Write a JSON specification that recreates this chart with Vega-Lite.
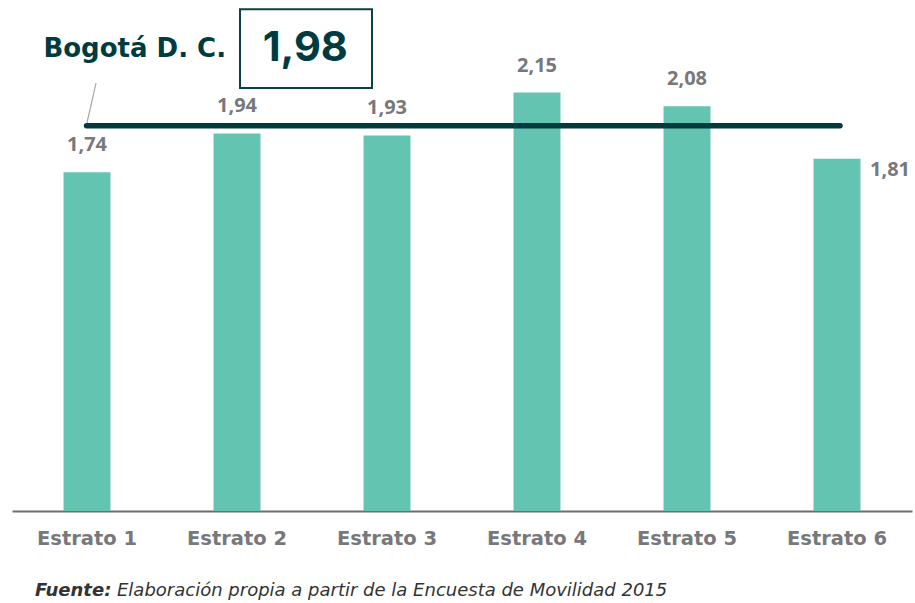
{
  "$schema": "https://vega.github.io/schema/vega-lite/v6.json",
  "width": 900,
  "height": 506,
  "autosize": "none",
  "padding": {"left": 12, "top": 5, "right": 3, "bottom": 92},
  "background": "white",
  "config": {
    "view": {"stroke": null},
    "font": "Open Sans",
    "locale": {"number": {"decimal": ",", "thousands": ".", "grouping": [3], "currency": ["$", ""]}}
  },
  "datasets": {
    "estratos": [
      {"estrato": "Estrato 1", "viajes": 1.74},
      {"estrato": "Estrato 2", "viajes": 1.94},
      {"estrato": "Estrato 3", "viajes": 1.93},
      {"estrato": "Estrato 4", "viajes": 2.15},
      {"estrato": "Estrato 5", "viajes": 2.08},
      {"estrato": "Estrato 6", "viajes": 1.81}
    ],
    "bogota": [{"ciudad": "Bogotá D. C.", "promedio": 1.98}],
    "fuente": [{"etiqueta": "Fuente:", "texto": "Elaboración propia a partir de la Encuesta de Movilidad 2015"}]
  },
  "layer": [
    {
      "data": {"name": "estratos"},
      "encoding": {
        "x": {
          "field": "estrato", "type": "nominal", "sort": null,
          "scale": {"paddingInner": 0.687, "paddingOuter": 0.3435},
          "axis": {"title": null, "labelAngle": 0, "ticks": false, "domainColor": "#6d6e71", "domainWidth": 2,
                   "labelFont": "DejaVu Sans", "labelFontSize": 19.5, "labelFontWeight": "bold", "labelColor": "#77787b", "labelPadding": 18}
        },
        "y": {"field": "viajes", "type": "quantitative", "scale": {"domain": [0, 2.6], "nice": false, "zero": true}, "axis": null}
      },
      "layer": [
        {"mark": {"type": "bar", "color": "#63c5b1"}},
        {
          "transform": [{"filter": "datum.estrato != 'Estrato 6'"}],
          "mark": {"type": "text", "baseline": "middle", "dy": -27, "fontSize": 20, "fontWeight": "bold", "color": "#77787b"},
          "encoding": {"text": {"field": "viajes", "type": "quantitative", "format": ".2f"}}
        },
        {
          "transform": [{"filter": "datum.estrato == 'Estrato 6'"}],
          "mark": {"type": "text", "baseline": "middle", "align": "left", "dx": 33, "dy": 11, "fontSize": 20, "fontWeight": "bold", "color": "#77787b"},
          "encoding": {"text": {"field": "viajes", "type": "quantitative", "format": ".2f"}}
        }
      ]
    },
    {
      "layer": [
        {
          "data": {"name": "bogota"},
          "mark": {"type": "rule", "color": "#003b40", "strokeWidth": 5.5, "strokeCap": "round"},
          "encoding": {
            "x": {"datum": 0.497, "type": "quantitative", "scale": {"domain": [0, 6], "nice": false, "zero": true}, "axis": null},
            "x2": {"datum": 5.52},
            "y": {"field": "promedio", "type": "quantitative"}
          }
        },
        {
          "data": {"name": "bogota"},
          "mark": {"type": "rule", "color": "#a7a9ac", "strokeWidth": 1.2},
          "encoding": {
            "x": {"datum": 0.56, "type": "quantitative", "scale": {"domain": [0, 6], "nice": false}, "axis": null},
            "x2": {"datum": 0.5},
            "y": {"datum": 2.198, "type": "quantitative"},
            "y2": {"datum": 1.995}
          }
        },
        {
          "data": {"name": "bogota"},
          "mark": {"type": "rect", "fill": "white", "stroke": "#0b4044", "strokeWidth": 2},
          "encoding": {
            "x": {"datum": 1.52, "type": "quantitative", "scale": {"domain": [0, 6], "nice": false}, "axis": null},
            "x2": {"datum": 2.4},
            "y": {"datum": 2.173, "type": "quantitative"},
            "y2": {"datum": 2.578}
          }
        },
        {
          "data": {"name": "bogota"},
          "mark": {"type": "text", "baseline": "middle", "align": "center", "font": "Inter", "fontSize": 41.5, "fontWeight": "bold", "color": "#003b40"},
          "encoding": {
            "x": {"datum": 1.955, "type": "quantitative", "scale": {"domain": [0, 6], "nice": false}, "axis": null},
            "y": {"datum": 2.373, "type": "quantitative"},
            "text": {"field": "promedio", "type": "quantitative", "format": ".2f"}
          }
        },
        {
          "data": {"name": "bogota"},
          "mark": {"type": "text", "baseline": "middle", "align": "right", "font": "DejaVu Sans", "fontSize": 26, "fontWeight": "bold", "color": "#003b40"},
          "encoding": {
            "x": {"datum": 1.427, "type": "quantitative", "scale": {"domain": [0, 6], "nice": false}, "axis": null},
            "y": {"datum": 2.373, "type": "quantitative"},
            "text": {"field": "ciudad"}
          }
        },
        {
          "data": {"name": "fuente"},
          "mark": {"type": "text", "baseline": "middle", "align": "left", "font": "DejaVu Sans", "fontSize": 18, "fontWeight": "bold", "fontStyle": "italic", "color": "#333333"},
          "encoding": {
            "x": {"datum": 0.153, "type": "quantitative", "scale": {"domain": [0, 6], "nice": false}, "axis": null},
            "y": {"datum": -0.411, "type": "quantitative"},
            "text": {"field": "etiqueta"}
          }
        },
        {
          "data": {"name": "fuente"},
          "mark": {"type": "text", "baseline": "middle", "align": "left", "font": "DejaVu Sans", "fontSize": 18, "fontStyle": "italic", "color": "#333333"},
          "encoding": {
            "x": {"datum": 0.7, "type": "quantitative", "scale": {"domain": [0, 6], "nice": false}, "axis": null},
            "y": {"datum": -0.411, "type": "quantitative"},
            "text": {"field": "texto"}
          }
        }
      ]
    }
  ],
  "resolve": {"scale": {"x": "independent"}}
}
